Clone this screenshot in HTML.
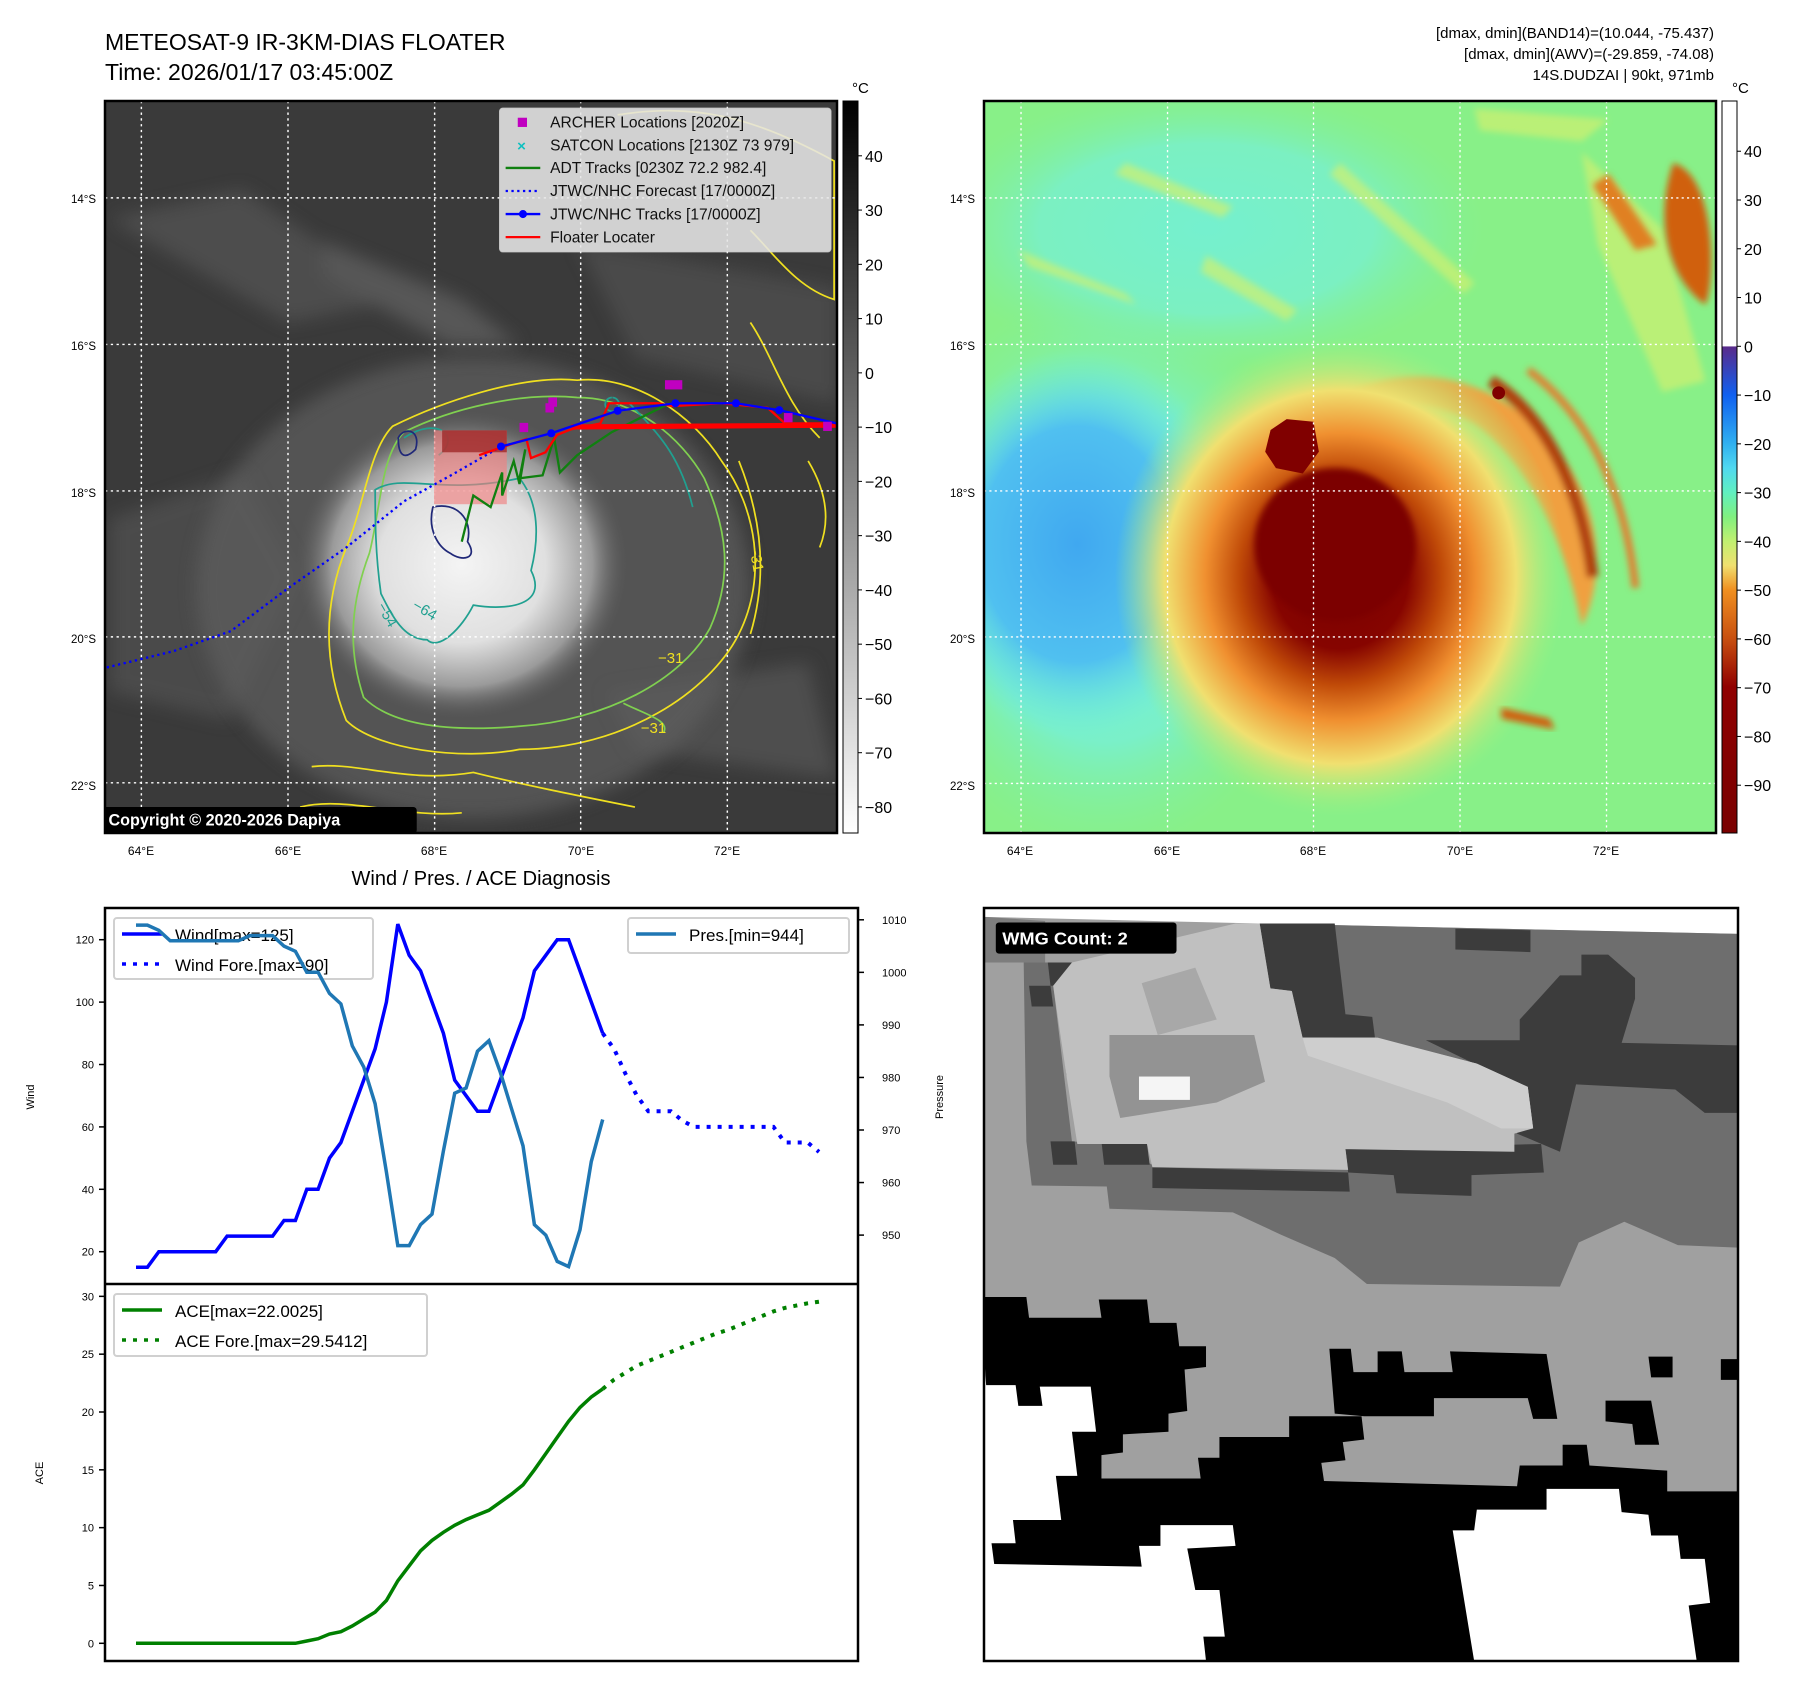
<!DOCTYPE html>
<html><head><meta charset="utf-8"><style>
html,body{margin:0;padding:0;background:#fff;}
svg{display:block;font-family:"Liberation Sans","DejaVu Sans",sans-serif;}
</style></head><body>
<svg id="root" width="1797" height="1690" viewBox="0 0 1797 1690" xmlns="http://www.w3.org/2000/svg">
<defs>
 <radialGradient id="stormW" cx="0.5" cy="0.5" r="0.5">
  <stop offset="0" stop-color="#f4f4f4"/><stop offset="0.5" stop-color="#e0e0e0"/><stop offset="0.78" stop-color="#9a9a9a"/><stop offset="1" stop-color="#555" stop-opacity="0"/>
 </radialGradient>
 <radialGradient id="stormC" cx="0.5" cy="0.5" r="0.5">
  <stop offset="0" stop-color="#7a0000"/><stop offset="0.3" stop-color="#860400"/><stop offset="0.45" stop-color="#c04a08"/><stop offset="0.6" stop-color="#f09030"/><stop offset="0.78" stop-color="#f0e070"/><stop offset="1" stop-color="#a0f080" stop-opacity="0"/>
 </radialGradient>
 <radialGradient id="blueReg" cx="0.5" cy="0.5" r="0.5">
  <stop offset="0" stop-color="#40a8f0"/><stop offset="0.6" stop-color="#50c0f0"/><stop offset="1" stop-color="#70f0e0" stop-opacity="0"/>
 </radialGradient>
 <radialGradient id="cyanReg" cx="0.5" cy="0.5" r="0.5">
  <stop offset="0" stop-color="#70f0e0"/><stop offset="0.6" stop-color="#78f0d0"/><stop offset="1" stop-color="#80f0a0" stop-opacity="0"/>
 </radialGradient>
 <linearGradient id="cbGray" x1="0" y1="1" x2="0" y2="0">
  <stop offset="0" stop-color="#ffffff"/><stop offset="1" stop-color="#000000"/>
 </linearGradient>
 <linearGradient id="cbJet" x1="0" y1="1" x2="0" y2="0">
  <stop offset="0" stop-color="#7a0000"/><stop offset="0.1" stop-color="#800000"/><stop offset="0.3" stop-color="#900000"/><stop offset="0.4" stop-color="#c85010"/><stop offset="0.5" stop-color="#f09020"/><stop offset="0.55" stop-color="#f0e070"/><stop offset="0.6" stop-color="#c0f070"/><stop offset="0.65" stop-color="#80f080"/><stop offset="0.7" stop-color="#60f0c0"/><stop offset="0.75" stop-color="#50d8f0"/><stop offset="0.8" stop-color="#30b0f0"/><stop offset="0.9" stop-color="#1060f0"/><stop offset="1" stop-color="#5a2a8a"/>
 </linearGradient>
 <filter id="blur6"><feGaussianBlur stdDeviation="6"/></filter>
 <filter id="blur15"><feGaussianBlur stdDeviation="15"/></filter>
</defs>

<text x="105" y="50" font-size="23">METEOSAT-9 IR-3KM-DIAS FLOATER</text>
<text x="105" y="80" font-size="23">Time: 2026/01/17 03:45:00Z</text>
<g font-size="15" text-anchor="end">
 <text x="1714" y="38">[dmax, dmin](BAND14)=(10.044, -75.437)</text>
 <text x="1714" y="59">[dmax, dmin](AWV)=(-29.859, -74.08)</text>
 <text x="1714" y="80">14S.DUDZAI | 90kt, 971mb</text>
</g>

<svg x="105" y="101" width="732" height="732" viewBox="182 176 1268 1269" preserveAspectRatio="none">
 <rect x="182" y="176" width="1268" height="1269" fill="#3a3a3a"/>
 <g filter="url(#blur15)" opacity="0.6">
  <path d="M190 380 L420 330 L700 520 L500 560 Z" fill="#5a5a5a"/>
  <path d="M560 420 L800 520 L900 600 L780 600 L560 480Z" fill="#6a6a6a"/>
  <path d="M190 900 L420 820 L520 1000 L400 1250 L190 1200Z" fill="#565656"/>
  <path d="M1000 420 L1450 500 L1450 700 L1100 620Z" fill="#555"/>
  <path d="M1050 1200 L1400 1150 L1450 1350 L1100 1300Z" fill="#5c5c5c"/>
 </g>
 <ellipse cx="820" cy="1020" rx="480" ry="400" fill="#5e5e5e" filter="url(#blur15)" opacity="0.7"/>
 <ellipse cx="800" cy="980" rx="290" ry="270" fill="url(#stormW)"/>
 <g fill="none" stroke-width="3">
  <path d="M680 740 C760 700 900 650 1000 660 C1100 650 1200 720 1250 800 C1310 880 1330 1000 1280 1100 C1230 1200 1080 1300 900 1300 C800 1320 650 1300 600 1250 C560 1150 560 1050 600 950 C630 880 640 780 680 740Z" stroke="#f0e020"/>
  <path d="M540 1330 C620 1320 700 1360 820 1340 C900 1360 1000 1380 1100 1400 M520 1400 C600 1380 700 1420 800 1410" stroke="#f0e020"/>
  <path d="M1300 560 C1340 620 1360 700 1420 760 M1400 800 C1430 850 1440 900 1420 950 M1280 800 C1320 900 1330 1000 1300 1100" stroke="#f0e020"/>
  <path d="M1070 200 C1200 180 1300 200 1445 280 L1445 520 C1380 500 1340 440 1300 400" stroke="#f0e020"/>
  <path d="M700 750 C780 710 900 680 1000 690 C1100 690 1180 760 1220 830 C1260 920 1270 1000 1230 1090 C1180 1180 1050 1250 900 1260 C780 1270 680 1260 630 1210 C600 1120 610 1040 640 960 C660 880 660 790 700 750Z" stroke="#80d050"/>
  <path d="M1080 1220 C1120 1240 1160 1250 1150 1270" stroke="#80d050"/>
  <path d="M700 760 C760 720 800 760 760 790 M650 850 C700 820 760 860 900 830 C940 880 930 950 920 990 C950 1050 880 1060 820 1050 C800 1090 760 1130 740 1110 C700 1110 680 1070 660 1030 C650 960 650 900 650 850Z" stroke="#20a090"/>
  <path d="M1090 700 C1150 760 1180 800 1200 880 M1060 690 A12 12 0 1 0 1061 690" stroke="#20a090"/>
  <path d="M690 760 C700 740 730 745 720 780 C700 800 690 790 690 760Z M750 880 C790 870 820 900 810 940 C830 970 800 975 780 960 C760 950 740 920 750 880Z" stroke="#202878"/>
 </g>
 <g font-size="26" fill="#20a090"><text x="645" y="1065" transform="rotate(60 660 1065)">−54</text><text x="710" y="1065" transform="rotate(30 730 1065)">−64</text></g>
 <g font-size="26" fill="#f0e020"><text x="1110" y="1272">−31</text><text x="1290" y="960" transform="rotate(80 1300 960)">−31</text><text x="1140" y="1150">−31</text></g>
 <g stroke="#fff" stroke-width="2.5" stroke-dasharray="4 6">
  <line x1="245" y1="176" x2="245" y2="1445"/><line x1="499" y1="176" x2="499" y2="1445"/><line x1="753" y1="176" x2="753" y2="1445"/><line x1="1006" y1="176" x2="1006" y2="1445"/><line x1="1260" y1="176" x2="1260" y2="1445"/>
  <line x1="182" y1="344" x2="1450" y2="344"/><line x1="182" y1="598" x2="1450" y2="598"/><line x1="182" y1="852" x2="1450" y2="852"/><line x1="182" y1="1105" x2="1450" y2="1105"/><line x1="182" y1="1358" x2="1450" y2="1358"/>
 </g>
 <rect x="752" y="747" width="126" height="128" fill="#f08080" opacity="0.65"/>
 <rect x="766" y="747" width="112" height="38" fill="#a02828" opacity="0.8"/>
 <polyline points="185,1158 300,1130 400,1095 500,1020 600,950 700,870 790,820 868,775" fill="none" stroke="#0000ff" stroke-width="4" stroke-dasharray="4 6"/>
 <polyline points="800,940 820,860 850,880 870,820 870,860 890,800 900,840 910,780 900,830 940,825 960,760 970,820 1000,790 1060,750 1160,700" fill="none" stroke="#108010" stroke-width="4"/>
 <polyline points="990,741 1450,738" fill="none" stroke="#ff0000" stroke-width="9"/>
 <polyline points="830,790 850,783 912,762 920,795 945,785 965,755 990,745 1040,735 1055,700 1140,700 1165,705 1250,700 1330,708 1360,735 1450,735" fill="none" stroke="#ff0000" stroke-width="4"/>
 <polyline points="868,775 955,752 1070,713 1170,700 1275,700 1350,712 1450,735" fill="none" stroke="#0000ff" stroke-width="4"/>
 <g fill="#0000ff"><circle cx="868" cy="775" r="7"/><circle cx="955" cy="752" r="7"/><circle cx="1070" cy="713" r="7"/><circle cx="1170" cy="700" r="7"/><circle cx="1275" cy="700" r="7"/><circle cx="1350" cy="712" r="7"/></g>
 <g fill="#c000c0"><rect x="900" y="734" width="15" height="16"/><rect x="945" y="700" width="15" height="16"/><rect x="950" y="690" width="15" height="16"/><rect x="1152" y="660" width="30" height="16"/><rect x="1358" y="717" width="15" height="16"/><rect x="1426" y="732" width="15" height="16"/></g>
 <g>
  <rect x="865" y="188" width="575" height="250" rx="6" fill="#e6e6e6" opacity="0.88" stroke="#ccc"/>
  <rect x="897" y="205" width="16" height="16" fill="#c000c0"/>
  <text x="896" y="263" font-size="26" fill="#10c0c0" font-weight="bold">×</text>
  <line x1="876" y1="292" x2="936" y2="292" stroke="#108010" stroke-width="4"/>
  <line x1="876" y1="332" x2="936" y2="332" stroke="#0000ff" stroke-width="4" stroke-dasharray="4 6"/>
  <line x1="876" y1="372" x2="936" y2="372" stroke="#0000ff" stroke-width="4"/><circle cx="906" cy="372" r="7" fill="#0000ff"/>
  <line x1="876" y1="412" x2="936" y2="412" stroke="#ff0000" stroke-width="4"/>
  <g font-size="27" fill="#111">
   <text x="953" y="222">ARCHER Locations [2020Z]</text>
   <text x="953" y="262">SATCON Locations [2130Z 73 979]</text>
   <text x="953" y="301">ADT Tracks [0230Z 72.2 982.4]</text>
   <text x="953" y="341">JTWC/NHC Forecast [17/0000Z]</text>
   <text x="953" y="381">JTWC/NHC Tracks [17/0000Z]</text>
   <text x="953" y="421">Floater Locater</text>
  </g>
 </g>
 <rect x="178" y="1400" width="544" height="46" rx="6" fill="#000"/>
 <text x="188" y="1432" font-size="28" font-weight="bold" fill="#fff">Copyright © 2020-2026 Dapiya</text>
</svg>
<rect x="105" y="101" width="732" height="732" fill="none" stroke="#000" stroke-width="2.5"/>
<g font-size="11.5" text-anchor="end">
 <text x="96" y="203">14°S</text><text x="96" y="350">16°S</text><text x="96" y="497">18°S</text><text x="96" y="643">20°S</text><text x="96" y="790">22°S</text>
</g>
<g font-size="12" text-anchor="middle">
 <text x="141" y="855">64°E</text><text x="288" y="855">66°E</text><text x="434" y="855">68°E</text><text x="581" y="855">70°E</text><text x="727" y="855">72°E</text>
</g>
<rect x="843" y="101" width="15" height="732" fill="url(#cbGray)" stroke="#000" stroke-width="1"/>
<text x="852" y="93" font-size="15">°C</text>
<g id="cbL" font-size="16"></g>

<svg x="984" y="101" width="732" height="732" viewBox="36 186 1364 1344" preserveAspectRatio="none">
 <rect x="36" y="186" width="1364" height="1344" fill="#88f088"/>
 <ellipse cx="450" cy="420" rx="520" ry="260" fill="url(#cyanReg)" opacity="0.8"/>
 <ellipse cx="260" cy="1050" rx="400" ry="520" fill="url(#cyanReg)" opacity="0.9"/>
 <ellipse cx="210" cy="1000" rx="300" ry="360" fill="url(#blueReg)"/>
 <g filter="url(#blur6)" opacity="0.7" fill="#d0f070">
  <path d="M100 460 L300 540 L320 560 L120 490Z"/><path d="M450 470 L620 570 L600 590 L440 500Z"/><path d="M700 300 L950 520 L930 540 L680 320Z"/><path d="M1150 280 L1300 420 L1380 700 L1300 720 L1180 450Z"/><path d="M300 300 L500 380 L480 400 L280 320Z"/><path d="M950 200 L1200 220 L1150 260 L960 240Z"/>
 </g>
 <g filter="url(#blur6)">
  <path d="M1320 300 C1400 320 1400 520 1380 560 C1320 520 1280 420 1320 300Z" fill="#d06010"/>
  <path d="M1200 320 L1290 450 L1250 460 L1170 340Z" fill="#e08020"/>
  <path d="M720 720 C850 660 1000 700 1100 820 C1180 920 1200 1050 1150 1150 C1120 1000 1050 850 950 780 C880 740 800 740 720 720Z" fill="#f0a040"/>
  <path d="M980 700 C1080 760 1150 900 1170 1060" fill="none" stroke="#b04010" stroke-width="22"/>
  <path d="M1050 680 C1160 760 1230 900 1250 1080" fill="none" stroke="#e08030" stroke-width="14"/>
 </g>
 <ellipse cx="700" cy="1060" rx="420" ry="440" fill="url(#stormC)"/>
 <ellipse cx="690" cy="1000" rx="150" ry="140" fill="#7c0000" filter="url(#blur6)"/>
 <path d="M570 790 L600 770 L650 775 L660 830 L630 870 L580 860 L560 830Z" fill="#800000"/>
 <circle cx="995" cy="722" r="12" fill="#800000"/>
 <path d="M1000 1300 L1090 1320 L1100 1340 L1000 1320Z" fill="#d06010" filter="url(#blur6)"/>
 <g stroke="#fff" stroke-width="2.5" stroke-dasharray="4 6">
  <line x1="105" y1="186" x2="105" y2="1530"/><line x1="378" y1="186" x2="378" y2="1530"/><line x1="650" y1="186" x2="650" y2="1530"/><line x1="923" y1="186" x2="923" y2="1530"/><line x1="1196" y1="186" x2="1196" y2="1530"/>
  <line x1="36" y1="364" x2="1400" y2="364"/><line x1="36" y1="633" x2="1400" y2="633"/><line x1="36" y1="902" x2="1400" y2="902"/><line x1="36" y1="1170" x2="1400" y2="1170"/><line x1="36" y1="1439" x2="1400" y2="1439"/>
 </g>
</svg>
<rect x="984" y="101" width="732" height="732" fill="none" stroke="#000" stroke-width="2.5"/>
<g font-size="11.5" text-anchor="end">
 <text x="975" y="203">14°S</text><text x="975" y="350">16°S</text><text x="975" y="497">18°S</text><text x="975" y="643">20°S</text><text x="975" y="790">22°S</text>
</g>
<g font-size="12" text-anchor="middle">
 <text x="1020" y="855">64°E</text><text x="1167" y="855">66°E</text><text x="1313" y="855">68°E</text><text x="1460" y="855">70°E</text><text x="1606" y="855">72°E</text>
</g>
<rect id="cbRjet" x="1722" y="346" width="15" height="487" fill="url(#cbJet)"/>
<rect id="cbRwhite" x="1722" y="101" width="15" height="245" fill="#fff"/>
<rect x="1722" y="101" width="15" height="732" fill="none" stroke="#000" stroke-width="1"/>
<text x="1732" y="93" font-size="15">°C</text>
<g id="cbR" font-size="16"></g>

<svg x="984" y="908" width="754" height="753" viewBox="36 45 1406 1452" preserveAspectRatio="none">
 <rect x="36" y="45" width="1406" height="1452" fill="#a0a0a0"/>
 <polygon points="36,45 1442,45 1442,95 550,75 36,62" fill="#fff"/>
 <polygon points="110,150 160,150 200,495 270,500 350,540 700,545 1060,470 1050,390 690,300 560,75 1442,95 1442,700 1330,695 1230,650 1145,690 1110,775 750,770 690,720 590,675 500,632 270,625 265,582 125,580 115,495" fill="#6e6e6e"/>
 <g fill="#3c3c3c">
  <polygon points="550,75 690,75 710,250 760,255 765,295 630,295 610,205 570,200"/>
  <polygon points="710,510 1075,500 1080,555 945,560 945,600 805,595 800,560 715,555"/>
  <polygon points="350,545 715,555 718,592 350,585"/>
  <polygon points="915,85 1055,88 1055,130 915,125"/>
  <polygon points="1150,135 1200,135 1250,180 1250,220 1225,305 1442,310 1442,440 1380,440 1325,395 1140,385 1110,515 1030,480 1050,390 960,385 950,345 860,300 1035,300 1035,260 1075,215 1110,175 1150,175"/>
  <polygon points="155,150 200,150 200,195 160,195"/><polygon points="120,195 160,195 165,235 125,235"/>
  <polygon points="185,325 225,325 230,370 190,370"/><polygon points="160,495 205,495 210,540 165,540"/><polygon points="255,495 340,500 345,540 260,540"/>
  <polygon points="36,62 150,70 150,150 36,150" opacity="0.35"/>
 </g>
 <polygon points="200,150 505,75 550,75 570,200 610,205 630,295 765,295 955,345 1050,390 1060,470 1025,480 1025,515 710,510 715,550 350,545 340,500 210,500 190,370 165,195" fill="#c0c0c0"/>
 <polygon points="270,290 540,290 560,380 470,420 290,450 270,370" fill="#939393"/>
 <polygon points="330,190 430,160 470,260 360,290" fill="#a8a8a8"/>
 <polygon points="630,295 770,295 955,345 1050,390 1060,470 1000,470 900,420 640,330" fill="#cecece"/>
 <rect x="325" y="370" width="95" height="45" fill="#f5f5f5"/>
 <polygon fill="#000" points="36,795 115,795 120,835 255,835 250,800 340,800 345,845 395,845 400,890 450,890 450,930 410,935 415,1015 380,1020 380,1055 295,1060 295,1095 255,1100 255,1145 440,1145 435,1105 475,1105 475,1065 605,1065 605,1025 740,1025 745,1070 705,1075 710,1110 665,1115 670,1150 1030,1160 1035,1120 1115,1120 1115,1080 1160,1080 1165,1120 1310,1130 1310,1170 1442,1170 1442,1497 36,1497"/>
 <polygon fill="#000" points="680,895 720,895 725,940 770,940 770,900 815,900 820,940 910,940 905,900 1085,905 1105,1030 1060,1030 1050,990 875,990 875,1025 745,1025 690,1020"/>
 <polygon fill="#000" points="1275,910 1320,910 1320,950 1280,950"/><polygon fill="#000" points="1410,915 1442,915 1442,955 1410,955"/>
 <polygon fill="#000" points="1195,995 1280,995 1295,1080 1250,1080 1245,1040 1195,1035"/>
 <polygon fill="#fff" points="36,905 40,965 95,965 100,1005 145,1005 140,968 235,968 245,1055 200,1055 210,1140 170,1140 180,1225 90,1225 95,1270 50,1270 55,1310 330,1315 325,1275 365,1275 365,1235 500,1235 505,1275 415,1280 430,1360 475,1360 485,1450 445,1450 450,1497 36,1497"/>
 <polygon fill="#fff" points="910,1245 950,1245 955,1205 1085,1205 1085,1165 1220,1165 1225,1210 1275,1215 1280,1255 1330,1255 1335,1300 1380,1300 1390,1385 1350,1390 1365,1497 950,1497"/>
 <rect x="58" y="73" width="337" height="60" rx="6" fill="#000"/>
 <text x="70" y="115" font-size="34" font-weight="bold" fill="#fff">WMG Count: 2</text>
</svg>
<rect x="984" y="908" width="754" height="753" fill="none" stroke="#000" stroke-width="2.5"/>

<text x="481" y="885" font-size="20" text-anchor="middle">Wind / Pres. / ACE Diagnosis</text>
<g id="chart"></g>
<rect x="105" y="908" width="753" height="753" fill="none" stroke="#000" stroke-width="2.5"/>
<line x1="105" y1="1284" x2="858" y2="1284" stroke="#000" stroke-width="2.5"/>
</svg>

<script>
const windObs = [15,15,20,20,20,20,20,20,25,25,25,25,25,30,30,40,40,50,55,65,75,85,100,125,115,110,100,90,75,70,65,65,75,85,95,110,115,120,120,110,100,90];
const windFore = [90,85,77,70,65,65,65,62,60,60,60,60,60,60,60,60,55,55,55,52];
const presObs = [1009,1009,1008,1006,1006,1006,1006,1006,1006,1006,1007,1007,1007,1005,1004,1000,1000,996,994,986,982,975,962,948,948,952,954,966,977,978,985,987,981,974,967,952,950,945,944,951,964,972];
const aceObs = [0,0,0,0,0,0,0,0,0,0,0,0,0,0,0,0.2,0.4,0.8,1.0,1.5,2.1,2.7,3.7,5.4,6.7,8.0,8.9,9.6,10.2,10.7,11.1,11.5,12.2,12.9,13.7,15.0,16.4,17.8,19.2,20.4,21.3,22.0];
const aceFore = [22.0,22.8,23.4,24.0,24.4,24.8,25.2,25.6,26.0,26.4,26.8,27.1,27.5,27.9,28.3,28.7,29.0,29.2,29.4,29.54];
const windTicks = [20,40,60,80,100,120];
const presTicks = [950,960,970,980,990,1000,1010];
const aceTicks = [0,5,10,15,20,25,30];
const cbLTicks = [40,30,20,10,0,-10,-20,-30,-40,-50,-60,-70,-80];
const cbRTicks = [40,30,20,10,0,-10,-20,-30,-40,-50,-60,-70,-80,-90];

const NS='http://www.w3.org/2000/svg';
const chart=document.getElementById('chart');
const nTot = windObs.length + windFore.length - 1;
const xS = i => 136 + i*(819-136)/(nTot-1);
const yWind = v => 1126.9 - (v-60)*3.12;
const yPres = v => 919.8 + (1010-v)*5.255;
const yAce = v => 1643.3 - v*11.565;
function mk(tag, attrs, parent){const e=document.createElementNS(NS,tag);for(const k in attrs)e.setAttribute(k,attrs[k]);(parent||chart).appendChild(e);return e;}
function line(vals, off, yf, color, w, dash, name){
  const pts = vals.map((v,j)=>xS(j+off).toFixed(1)+','+yf(v).toFixed(1)).join(' ');
  const p = mk('polyline',{points:pts,fill:'none',stroke:color,'stroke-width':w});
  if(dash) p.setAttribute('stroke-dasharray',dash);
  
  
}
function tick(x1,x2,y,label,tx,anchor,fs,name){
  mk('line',{x1:x1,x2:x2,y1:y,y2:y,stroke:'#000','stroke-width':1.5});
  const t=mk('text',{x:tx,y:y+4,'font-size':fs,'text-anchor':anchor});t.textContent=label;
  
  
}
windTicks.forEach(v=>tick(99,105,yWind(v),v,94,'end',11,'wind-tick'));
presTicks.forEach(v=>tick(858,864,yPres(v),v,882,'start',11,'pressure-tick'));
aceTicks.forEach(v=>tick(99,105,yAce(v),v,94,'end',11,'ace-tick'));
let t;
t=mk('text',{x:34,y:1097,'font-size':11,'text-anchor':'middle',transform:'rotate(-90 34 1097)'});t.textContent='Wind';

t=mk('text',{x:943,y:1097,'font-size':11,'text-anchor':'middle',transform:'rotate(-90 943 1097)'});t.textContent='Pressure';

t=mk('text',{x:43,y:1473,'font-size':11,'text-anchor':'middle',transform:'rotate(-90 43 1473)'});t.textContent='ACE';

function legend(x,y,w,h,items,name){
  const g=mk('g',{});
  
  
  mk('rect',{x:x,y:y,width:w,height:h,rx:3,fill:'#fff','fill-opacity':0.8,stroke:'#d0d0d0','stroke-width':2},g);
  items.forEach((it,k)=>{const yy=y+16+k*30;
    const l=mk('line',{x1:x+8,x2:x+48,y1:yy,y2:yy,stroke:it[1],'stroke-width':3.5},g);
    if(it[2]) l.setAttribute('stroke-dasharray','4 7');
    const tx=mk('text',{x:x+61,y:yy+7,'font-size':17},g);tx.textContent=it[0];});
}
legend(628,918,221,35,[['Pres.[min=944]','#1f77b4',false]],'pressure-legend');
legend(114,918,259,61,[['Wind[max=125]','#0000ff',false],['Wind Fore.[max=90]','#0000ff',true]],'wind-legend');
legend(114,1294,313,62,[['ACE[max=22.0025]','#008000',false],['ACE Fore.[max=29.5412]','#008000',true]],'ace-legend');
line(windObs,0,yWind,'#0000ff',3.5,null,'wind-line');
line(windFore,windObs.length-1,yWind,'#0000ff',4,'4 7','wind-forecast-line');
line(presObs,0,yPres,'#1f77b4',3.5,null,'pressure-line');
line(aceObs,0,yAce,'#008000',3.5,null,'ace-line');
line(aceFore,aceObs.length-1,yAce,'#008000',4,'4 7','ace-forecast-line');

const cbL=document.getElementById('cbL'), cbR=document.getElementById('cbR');
const yCbL = v => 101 + (50.1-v)*(732/134.9);
const yCbR = v => 101 + (50.3-v)*(732/150.1);
cbLTicks.forEach(v=>{mk('line',{x1:858,x2:862,y1:yCbL(v),y2:yCbL(v),stroke:'#000'},cbL);
  const tx=mk('text',{x:865,y:yCbL(v)+6},cbL);tx.textContent=(v<0?'\u2212'+(-v):v);});
cbRTicks.forEach(v=>{mk('line',{x1:1737,x2:1741,y1:yCbR(v),y2:yCbR(v),stroke:'#000'},cbR);
  const tx=mk('text',{x:1744,y:yCbR(v)+6},cbR);tx.textContent=(v<0?'\u2212'+(-v):v);});
const y0=yCbR(0);
document.getElementById('cbRwhite').setAttribute('height', (y0-101).toFixed(1));
document.getElementById('cbRjet').setAttribute('y', y0.toFixed(1));
document.getElementById('cbRjet').setAttribute('height', (833-y0).toFixed(1));
</script>
</body></html>
